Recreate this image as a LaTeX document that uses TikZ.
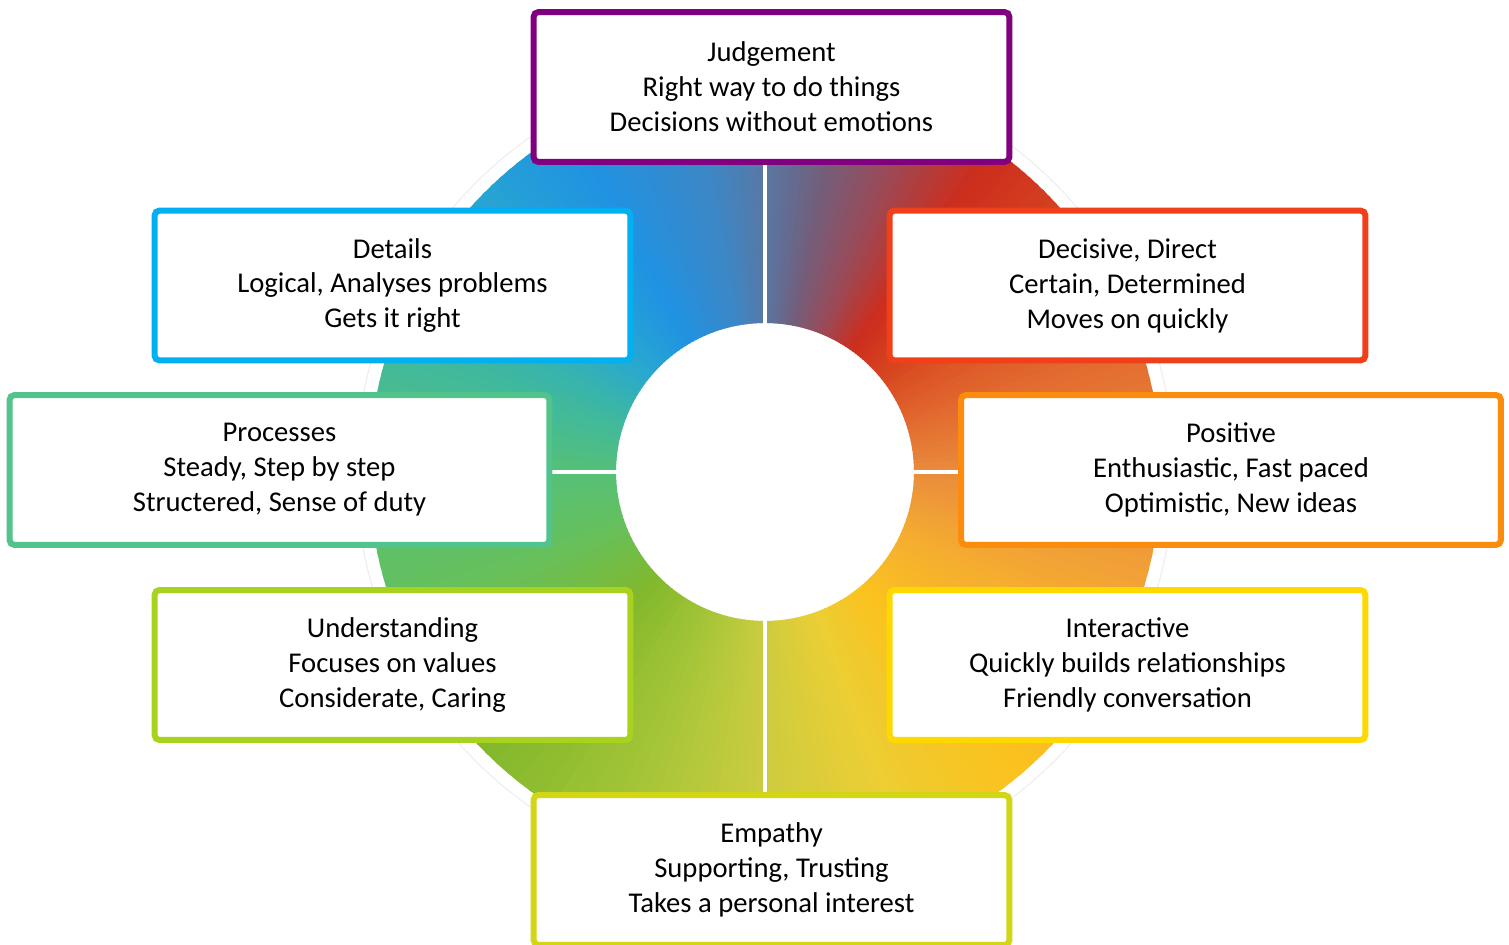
\documentclass[tikz,border=0pt]{standalone}
\usepackage{fontspec}
\setmainfont{Carlito}

\definecolor{cJudge}{HTML}{800080}
\definecolor{cDetails}{HTML}{00B0F0}
\definecolor{cDecisive}{HTML}{F0401A}
\definecolor{cProcess}{HTML}{52C38A}
\definecolor{cPositive}{HTML}{FB8C0E}
\definecolor{cUnderstand}{HTML}{A8D21E}
\definecolor{cInteract}{HTML}{FFD800}
\definecolor{cEmpathy}{HTML}{D2D614}

% colour stops of the ring, by angle
\definecolor{r00}{HTML}{CCCC40}% -90
\definecolor{r01}{HTML}{ECCE34}% -70
\definecolor{r02}{HTML}{FBC21E}% -50
\definecolor{r03}{HTML}{F5AE30}% -25
\definecolor{r04}{HTML}{EA8C3C}% 0
\definecolor{r05}{HTML}{E2682E}% 20
\definecolor{r06}{HTML}{D6441F}% 40
\definecolor{r07}{HTML}{CC2E1E}% 55
\definecolor{r08}{HTML}{9A4A58}% 68
\definecolor{r09}{HTML}{70607E}% 80
\definecolor{r10}{HTML}{5878A4}% 90
\definecolor{r11}{HTML}{3E86C4}% 100
\definecolor{r12}{HTML}{2092E2}% 120
\definecolor{r13}{HTML}{28A8D0}% 140
\definecolor{r14}{HTML}{3EB8A0}% 160
\definecolor{r15}{HTML}{56C078}% 180
\definecolor{r16}{HTML}{66C05C}% 200
\definecolor{r17}{HTML}{82B82C}% 225
\definecolor{r18}{HTML}{A8C638}% 250

% one sector of the ring, blending colour #3 (at angle #1) into #4 (at angle #2)
\newcommand{\ringpart}[4]{%
  \foreach \k in {0,...,11}{%
    \pgfmathsetmacro{\angA}{#1+(#2-#1)*\k/12}%
    \pgfmathsetmacro{\angB}{#1+(#2-#1)*(\k+1)/12+0.6}%
    \pgfmathtruncatemacro{\mixp}{100-(\k+0.5)*100/12}%
    \fill[#3!\mixp!#4] (\angA:149) arc[start angle=\angA, end angle=\angB, radius=149]
      -- (\angB:396) arc[start angle=\angB, end angle=\angA, radius=396] -- cycle;
  }%
}

\begin{document}
\begin{tikzpicture}[x=0.02cm, y=0.02cm,
  card/.style={draw=#1, line width=0.12cm, fill=white, rounded corners=0.1cm,
    minimum height=3cm, align=center, inner sep=0pt, text=black,
    font=\fontsize{16.3}{19.9}\selectfont},
  narrow/.style={minimum width=9.52cm},
  wide/.style={minimum width=10.8cm},
  divider/.style={draw=white, line width=0.08cm}]

\useasboundingbox[fill=white] (0,0) rectangle (1509,-945);

% colour ring
\coordinate (hub) at (765,-472);
\draw[black!7, line width=0.02cm] (hub) circle[radius=409];
\begin{scope}[shift={(hub)}]
  \ringpart{-90}{-70}{r00}{r01}
  \ringpart{-70}{-50}{r01}{r02}
  \ringpart{-50}{-25}{r02}{r03}
  \ringpart{-25}{0}{r03}{r04}
  \ringpart{0}{20}{r04}{r05}
  \ringpart{20}{40}{r05}{r06}
  \ringpart{40}{55}{r06}{r07}
  \ringpart{55}{68}{r07}{r08}
  \ringpart{68}{80}{r08}{r09}
  \ringpart{80}{90}{r09}{r10}
  \ringpart{90}{100}{r10}{r11}
  \ringpart{100}{120}{r11}{r12}
  \ringpart{120}{140}{r12}{r13}
  \ringpart{140}{160}{r13}{r14}
  \ringpart{160}{180}{r14}{r15}
  \ringpart{180}{200}{r15}{r16}
  \ringpart{200}{225}{r16}{r17}
  \ringpart{225}{250}{r17}{r18}
  \ringpart{250}{270}{r18}{r00}
\end{scope}

% quadrant dividers
\coordinate (ntop) at (765,-70);
\coordinate (nbot) at (765,-874);
\coordinate (nleft) at (363,-472);
\coordinate (nright) at (1167,-472);
\draw[divider] (ntop) -- (nbot);
\draw[divider] (nleft) -- (nright);

% trait cards
\node[card=cJudge, narrow] (judge) at (771.5,-87)
  {Judgement\\Right way to do things\\Decisions without emotions};
\node[card=cDetails, narrow] (details) at (392.5,-285.5)
  {Details\\Logical, Analyses problems\\Gets it right};
\node[card=cDecisive, narrow] (decisive) at (1127.5,-285.5)
  {Decisive, Direct\\Certain, Determined\\Moves on quickly};
\node[card=cProcess, wide] (process) at (279.5,-470)
  {Processes\\Steady, Step by step\\Structered, Sense of duty};
\node[card=cPositive, wide] (positive) at (1231,-470)
  {Positive\\Enthusiastic, Fast paced\\Optimistic, New ideas};
\node[card=cUnderstand, narrow] (understand) at (392.5,-665)
  {Understanding\\Focuses on values\\Considerate, Caring};
\node[card=cInteract, narrow] (interact) at (1127.5,-665)
  {Interactive\\Quickly builds relationships\\Friendly conversation};
\node[card=cEmpathy, narrow] (empathy) at (771.5,-870)
  {Empathy\\Supporting, Trusting\\Takes a personal interest};
\end{tikzpicture}
\end{document}
